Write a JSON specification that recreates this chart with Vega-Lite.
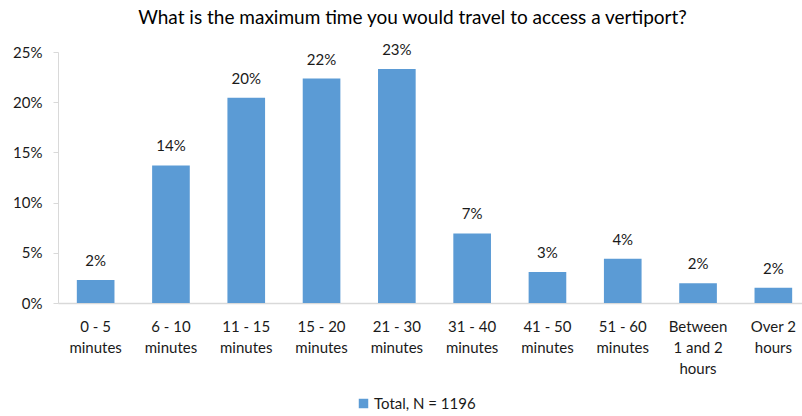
{
  "$schema": "https://vega.github.io/schema/vega-lite/v6.json",
  "autosize": "none",
  "width": 753,
  "height": 251,
  "padding": {"left": 58, "top": 52, "right": 0, "bottom": 113},
  "background": "white",
  "title": {
    "text": "What is the maximum time you would travel to access a vertiport?",
    "font": "Lato",
    "fontSize": 19,
    "fontWeight": "normal",
    "color": "#000000",
    "anchor": "middle",
    "dx": -22,
    "offset": 15
  },
  "config": {"view": {"stroke": null}},
  "data": {
    "values": [
      {"time": "0 - 5 minutes", "share": 0.0229, "series": "Total, N = 1196"},
      {"time": "6 - 10 minutes", "share": 0.137, "series": "Total, N = 1196"},
      {"time": "11 - 15 minutes", "share": 0.2045, "series": "Total, N = 1196"},
      {"time": "15 - 20 minutes", "share": 0.2235, "series": "Total, N = 1196"},
      {"time": "21 - 30 minutes", "share": 0.233, "series": "Total, N = 1196"},
      {"time": "31 - 40 minutes", "share": 0.0693, "series": "Total, N = 1196"},
      {"time": "41 - 50 minutes", "share": 0.0308, "series": "Total, N = 1196"},
      {"time": "51 - 60 minutes", "share": 0.0441, "series": "Total, N = 1196"},
      {"time": "Between 1 and 2 hours", "share": 0.0196, "series": "Total, N = 1196"},
      {"time": "Over 2 hours", "share": 0.0152, "series": "Total, N = 1196"}
    ]
  },
  "encoding": {
    "x": {
      "field": "time",
      "type": "nominal",
      "sort": null,
      "scale": {"paddingInner": 0.5, "paddingOuter": 0.25},
      "axis": {
        "title": null,
        "labelAngle": 0,
        "labelFont": "Lato",
        "labelFontSize": 15,
        "labelColor": "#1a1a1a",
        "labelLineHeight": 21,
        "labelPadding": 16,
        "labelBaseline": "top",
        "ticks": false,
        "domainColor": "#d9d9d9",
        "domainWidth": 1.5,
        "labelExpr": "datum.label == 'Between 1 and 2 hours' ? ['Between', '1 and 2', 'hours'] : [slice(datum.label, 0, lastindexof(datum.label, ' ')), slice(datum.label, lastindexof(datum.label, ' ') + 1)]"
      }
    },
    "y": {
      "field": "share",
      "type": "quantitative",
      "scale": {"domain": [0, 0.25]},
      "axis": {
        "title": null,
        "format": ".0%",
        "values": [0, 0.05, 0.1, 0.15, 0.2, 0.25],
        "grid": false,
        "labelFont": "Lato",
        "labelFontSize": 15,
        "labelColor": "#1a1a1a",
        "tickSize": 5,
        "tickColor": "#d9d9d9",
        "domainColor": "#d9d9d9",
        "labelPadding": 11
      }
    }
  },
  "layer": [
    {
      "mark": {"type": "bar", "color": "#5b9bd5"},
      "encoding": {
        "color": {
          "field": "series",
          "type": "nominal",
          "scale": {"range": ["#5b9bd5"]},
          "legend": {
            "title": null,
            "orient": "none",
            "legendX": 298,
            "legendY": 344,
            "labelFont": "Lato",
            "labelFontSize": 15,
            "labelColor": "#1a1a1a",
            "labelOffset": 3,
            "symbolType": "square",
            "symbolSize": 90,
            "symbolStrokeWidth": 0,
            "symbolOffset": 0
          }
        }
      }
    },
    {
      "mark": {"type": "text", "baseline": "bottom", "dy": -11, "font": "Lato", "fontSize": 15, "color": "#1a1a1a"},
      "encoding": {
        "text": {"field": "share", "type": "quantitative", "format": ".0%"}
      }
    }
  ]
}
